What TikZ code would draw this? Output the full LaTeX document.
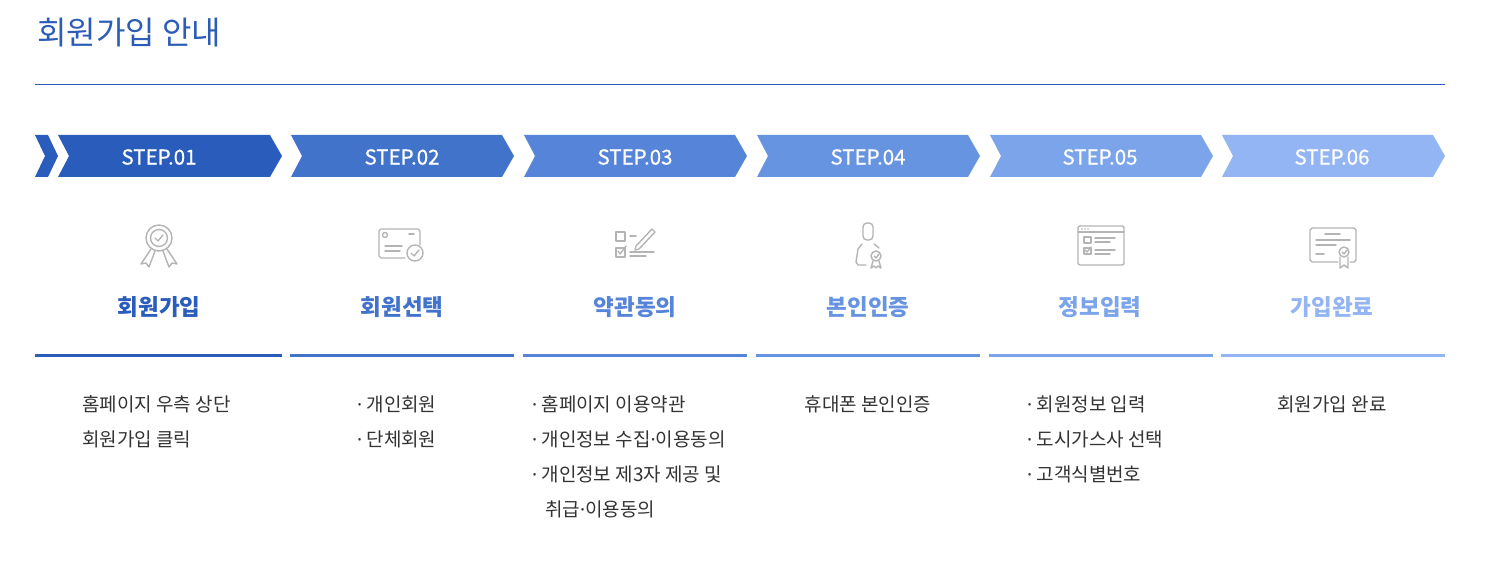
\documentclass[tikz,border=0pt]{standalone}
\usepackage{fontspec}
\setmainfont{Noto Sans CJK KR}
\newfontfamily\krm{Noto Sans CJK KR}[FakeBold=0.6]
\newfontfamily\lat{Noto Sans}
\newcommand{\md}{{\lat ·}}
\definecolor{titleblue}{HTML}{2A5CB8}
\definecolor{cA}{HTML}{2A5CBC}
\definecolor{cB}{HTML}{4273CB}
\definecolor{cC}{HTML}{5584D8}
\definecolor{cD}{HTML}{6794E0}
\definecolor{cE}{HTML}{7BA4EA}
\definecolor{cF}{HTML}{93B5F3}
\definecolor{txt}{HTML}{333333}
\definecolor{icon}{HTML}{B4B4B4}
\tikzset{
  steplabel/.style={text=white,font=\krm\fontsize{20.5}{20}\selectfont,inner sep=0pt},
  stepname/.style={font=\fontsize{22.5}{22}\selectfont\bfseries,inner sep=0pt},
  desc/.style={text=txt,font=\fontsize{19}{19}\selectfont,inner sep=0pt,anchor=west},
  descc/.style={text=txt,font=\fontsize{19}{19}\selectfont,inner sep=0pt},
  ic/.style={draw=icon,line width=1.4pt,line join=round,line cap=round},
}
\newcommand{\chev}[3]{% L R color
  \fill[#3] (#1,135) -- (#2-12,135) -- (#2,156) -- (#2-12,177) -- (#1,177) -- (#1+11,156) -- cycle;
  \fill[#3] (#1-1,354) rectangle (#2,357);
}
\begin{document}
\begin{tikzpicture}[x=1pt,y=-1pt]
\useasboundingbox (0,0) rectangle (1504,572);
\node[anchor=west,text=titleblue,font=\fontsize{32}{32}\selectfont,inner sep=0pt] (title) at (37,33) {회원가입 안내};
\draw[titleblue,line width=0.8pt] (35,84) -- (1445,84);
\fill[cA] (35,135) -- (48,135) -- (58,156) -- (48,177) -- (35,177) -- (45,156) -- cycle;
\chev{58}{282}{cA}
\fill[cA] (35,354) rectangle (58,357);
\chev{291}{514}{cB}
\chev{524}{747}{cC}
\chev{757}{980}{cD}
\chev{990}{1213}{cE}
\chev{1222}{1445}{cF}
\node[steplabel] (s1) at (159,157) {STEP.01};
\node[steplabel] (s2) at (402,157) {STEP.02};
\node[steplabel] (s3) at (635,157) {STEP.03};
\node[steplabel] (s4) at (868,157) {STEP.04};
\node[steplabel] (s5) at (1100,157) {STEP.05};
\node[steplabel] (s6) at (1332,157) {STEP.06};
\node[stepname,text=cA] (n1) at (159,307) {회원가입};
\node[stepname,text=cB] (n2) at (402,307) {회원선택};
\node[stepname,text=cC] (n3) at (635,307) {약관동의};
\node[stepname,text=cD] (n4) at (868,307) {본인인증};
\node[stepname,text=cE] (n5) at (1100,307) {정보입력};
\node[stepname,text=cF] (n6) at (1332,307) {가입완료};
\node[desc] (d11) at (82,404) {홈페이지 우측 상단};
\node[desc] (d12) at (82,439) {회원가입 클릭};
\node[desc] (d21) at (357,404) {\md{} 개인회원};
\node[desc] (d22) at (357,439) {\md{} 단체회원};
\node[desc] (d31) at (532,404) {\md{} 홈페이지 이용약관};
\node[desc] (d32) at (532,439) {\md{} 개인정보 수집\md{}이용동의};
\node[desc] (d33) at (532,474) {\md{} 개인정보 제3자 제공 및};
\node[desc] (d34) at (545,509) {취급\md{}이용동의};
\node[descc] (d41) at (868,404) {휴대폰 본인인증};
\node[desc] (d51) at (1027,404) {\md{} 회원정보 입력};
\node[desc] (d52) at (1027,439) {\md{} 도시가스사 선택};
\node[desc] (d53) at (1027,474) {\md{} 고객식별번호};
\node[descc] (d61) at (1332,404) {회원가입 완료};
\begin{scope}[ic]
 \draw (159,238) circle[radius=13pt];
 \draw (159,238) circle[radius=8.5pt];
 \draw (155,238) -- (158,241) -- (163,235);
 \draw (151,249) -- (141,264) -- (146,263) -- (149,267) -- (155,251);
 \draw (167,249) -- (177,264) -- (172,263) -- (169,267) -- (163,251);
\end{scope}
\begin{scope}[ic]
 \draw (420,245) -- (420,231) -- (418,229) -- (381,229) -- (379,231) -- (379,256) -- (381,258) -- (405,258);
 \draw (385,235) circle[radius=2.5pt];
 \draw (409,234) -- (414,234);
 \draw (385,246) -- (402,246);
 \draw (385,251) -- (400,251);
 \draw (415,253) circle[radius=8pt];
 \draw (411,253) -- (414,256) -- (419,250);
\end{scope}
\begin{scope}[ic]
 \draw (616,232) rectangle (625,241);
 \draw (616,248) rectangle (625,257);
 \draw (618,251) -- (620,254) -- (626,246);
 \draw (630,236) -- (636,236);
 \draw (630,252) -- (654,252);
 \draw (630,256) -- (646,256);
 \draw (636,246) -- (652,229) -- (655,232) -- (639,249) -- (635,250) -- cycle;
\end{scope}
\begin{scope}[ic]
 \draw (868,223) -- (868,223);
 \draw[rounded corners=4pt] (863,223) rectangle (873,240);
 \draw (862,244) -- (858,249) -- (856,262) -- (858,265) -- (866,265);
 \draw (874,244) -- (879,248);
 \draw (876,256) circle[radius=5pt];
 \draw (874,256) -- (876,258) -- (879,254);
 \draw (873,261) -- (871,268) -- (874,266) -- (876,268) -- (878,266) -- (881,268) -- (879,261);
\end{scope}
\begin{scope}[ic]
 \draw[rounded corners=2pt] (1078,226) rectangle (1124,265);
 \draw (1078,232) -- (1124,232);
 \fill[icon] (1082,229) circle[radius=0.8pt] (1085,229) circle[radius=0.8pt] (1088,229) circle[radius=0.8pt];
 \draw (1084,237) rectangle (1091,243);
 \draw (1084,248) rectangle (1091,254);
 \draw (1085,250) -- (1087,252) -- (1091,247);
 \draw (1095,238) -- (1115,238);
 \draw (1095,242) -- (1110,242);
 \draw (1095,250) -- (1115,250);
 \draw (1095,254) -- (1110,254);
\end{scope}
\begin{scope}[ic]
 \draw (1338,262) -- (1312,262) -- (1310,260) -- (1310,230) -- (1312,228) -- (1354,228) -- (1356,230) -- (1356,260) -- (1354,262) -- (1350,262);
 \draw (1325,234) -- (1340,234);
 \draw (1316,240) -- (1350,240);
 \draw (1316,245) -- (1336,245);
 \draw (1316,254) -- (1324,254);
 \draw (1344,252) circle[radius=5pt];
 \draw (1342,252) -- (1344,254) -- (1347,250);
 \draw (1340,257) -- (1340,268) -- (1344,265) -- (1348,268) -- (1348,257);
\end{scope}
\end{tikzpicture}
\end{document}
